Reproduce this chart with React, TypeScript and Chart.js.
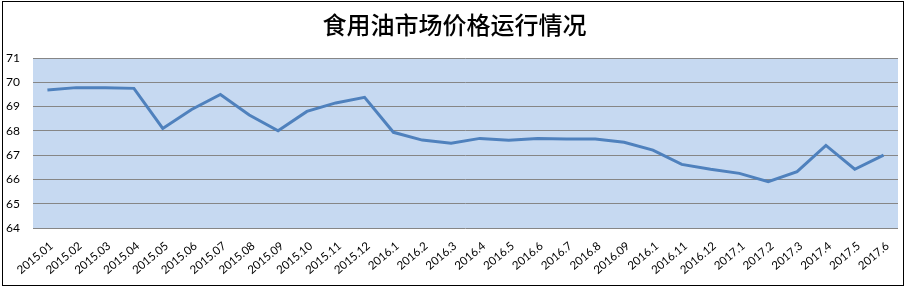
import React, { useEffect, useRef } from "react";
import { Chart, registerables } from "chart.js";

Chart.register(...registerables);

const categories = [
  "2015.01", "2015.02", "2015.03", "2015.04", "2015.05", "2015.06", "2015.07", "2015.08",
  "2015.09", "2015.10", "2015.11", "2015.12", "2016.1", "2016.2", "2016.3", "2016.4",
  "2016.5", "2016.6", "2016.7", "2016.8", "2016.09", "2016.1", "2016.11", "2016.12",
  "2017.1", "2017.2", "2017.3", "2017.4", "2017.5", "2017.6",
];

const prices = [
  69.68, 69.78, 69.78, 69.75, 68.1, 68.88, 69.5, 68.65,
  68.0, 68.8, 69.15, 69.38, 67.94, 67.62, 67.49, 67.69,
  67.61, 67.69, 67.66, 67.66, 67.53, 67.21, 66.62, 66.42,
  66.25, 65.91, 66.32, 67.4, 66.42, 67.0,
];

const yTicks = [64, 65, 66, 67, 68, 69, 70, 71];

const titleText = "食用油市场价格运行情况";

const decorPlugin = {
  id: "decor",
  beforeDraw(chart: any) {
    const { ctx, chartArea } = chart;
    ctx.save();
    ctx.fillStyle = "#ffffff";
    ctx.fillRect(0, 0, chart.width, chart.height);
    ctx.fillStyle = "#C6D9F1";
    ctx.fillRect(chartArea.left, chartArea.top, chartArea.right - chartArea.left, chartArea.bottom - chartArea.top);
    ctx.restore();
  },
  afterDraw(chart: any) {
    const { ctx } = chart;
    ctx.save();
    ctx.strokeStyle = "#000000";
    ctx.lineWidth = 1;
    ctx.strokeRect(2.5, 1.5, 901, 284);
    ctx.fillStyle = "#000000";
    ctx.font = "500 24px 'Noto Sans CJK SC'";
    ctx.textAlign = "center";
    ctx.textBaseline = "middle";
    ctx.fillText(titleText, 454.5, 25);
    ctx.restore();
  },
};

export default function App() {
  const ref = useRef<HTMLCanvasElement | null>(null);
  useEffect(() => {
    if (!ref.current) return;
    const chart = new Chart(ref.current, {
      type: "line",
      data: {
        labels: categories,
        datasets: [
          {
            data: prices,
            borderColor: "#4F81BD",
            borderWidth: 3,
            pointRadius: 0,
            tension: 0,
            fill: false,
          },
        ],
      },
      options: {
        animation: false,
        responsive: false,
        devicePixelRatio: 1,
        layout: { padding: { left: 6, right: 9, top: 58, bottom: 0 } },
        plugins: { legend: { display: false }, title: { display: false }, tooltip: { enabled: false } },
        scales: {
          x: {
            offset: true,
            grid: { display: false, drawTicks: false },
            border: { display: false },
            afterFit: (axis: any) => { axis.height = 60; },
            ticks: {
              autoSkip: false,
              minRotation: 40,
              maxRotation: 40,
              padding: 11,
              labelOffset: 4,
              color: "#000000",
              font: { family: "Lato", size: 11.5 },
            },
          },
          y: {
            min: 64,
            max: 71,
            afterFit: (axis: any) => { axis.width = 27; },
            afterBuildTicks: (axis: any) => { axis.ticks = yTicks.map((v) => ({ value: v })); },
            grid: { color: "#868686", lineWidth: 1, drawTicks: false },
            border: { display: false },
            ticks: {
              crossAlign: "far",
              padding: 0,
              color: "#000000",
              font: { family: "Lato", size: 12 },
            },
          },
        },
      },
      plugins: [decorPlugin],
    });
    return () => chart.destroy();
  }, []);
  return (
    <div style={{ position: "absolute", left: 0, top: 0, width: 907, height: 288 }}>
      <canvas ref={ref} width={907} height={288} style={{ display: "block" }} />
    </div>
  );
}
